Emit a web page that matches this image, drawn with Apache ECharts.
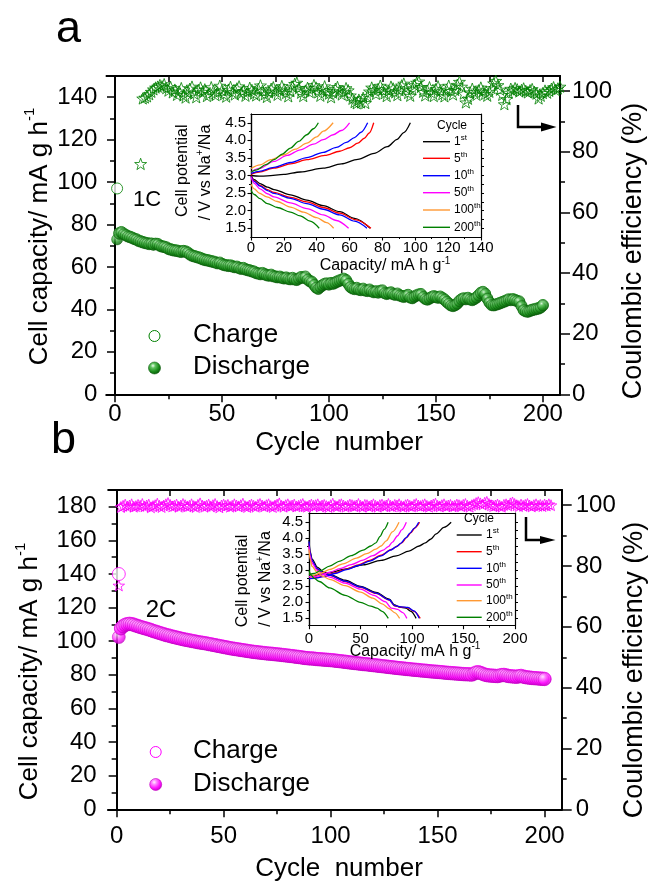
<!DOCTYPE html>
<html><head><meta charset="utf-8">
<script src="https://cdn.jsdelivr.net/npm/echarts@6/dist/echarts.min.js"></script>
<style>html,body{margin:0;padding:0;background:#fff}#c{width:651px;height:881px}</style>
</head><body><div id="c"></div><script>
// ---------------- DATA ----------------
// Panel a (1C): discharge / charge capacity per cycle (cycles 1..200)
const disA = [
73.0,75.6,76.2,75.4,74.9,74.3,74.0,73.6,73.1,72.8,
72.2,71.9,71.5,71.2,71.0,70.7,70.9,70.4,70.8,70.6,
69.9,69.5,69.4,69.0,68.4,68.1,67.8,67.6,67.5,67.2,
67.0,67.4,67.1,66.6,65.8,65.2,64.9,64.6,64.3,64.0,
63.5,63.2,63.0,62.8,62.5,62.3,62.0,61.6,61.8,61.2,
60.8,60.6,60.4,60.5,60.1,59.8,59.9,59.4,59.0,59.3,
58.7,58.4,58.2,57.8,57.6,57.0,56.8,56.5,56.9,56.4,
56.0,55.8,56.1,55.5,55.3,55.0,55.2,54.8,54.5,54.8,
54.3,54.1,54.6,54.0,53.8,54.4,55.0,54.8,55.2,54.0,
53.2,52.8,51.5,50.2,49.6,50.5,51.2,51.8,52.0,51.6,
52.2,52.0,52.5,53.0,53.4,53.8,54.2,53.6,52.0,50.5,
49.8,49.5,49.9,49.2,49.0,49.5,48.8,48.6,49.1,48.4,
48.0,48.3,47.8,48.5,48.7,47.6,47.2,47.5,47.8,47.1,
46.8,47.2,46.5,46.1,45.8,46.2,46.6,45.5,45.2,45.9,
46.4,46.8,47.0,45.8,44.9,44.5,45.0,45.6,46.0,45.7,
45.4,45.8,45.2,44.5,43.5,42.6,41.8,41.5,41.9,42.6,
43.8,44.6,45.0,44.7,45.2,44.6,44.3,44.8,45.5,46.5,
47.6,48.0,47.2,45.0,43.2,42.0,41.8,42.1,42.4,42.8,
43.2,43.6,44.0,44.5,44.3,44.6,44.2,43.8,43.5,41.5,
39.6,39.0,38.8,39.2,39.6,39.8,40.1,40.3,40.8,41.8];
const chgA = [
97.0,76.0,76.5,75.8,75.2,74.6,74.3,73.9,73.4,73.1,
72.5,72.2,71.8,71.5,71.3,71.0,71.1,70.7,71.0,70.9,
70.2,69.8,69.6,69.3,68.7,68.4,68.1,67.9,67.8,67.5,
67.3,67.6,67.4,66.9,66.1,65.5,65.2,64.9,64.6,64.3,
63.8,63.5,63.3,63.1,62.8,62.6,62.3,61.9,62.1,61.5,
61.1,60.9,60.7,60.8,60.4,60.1,60.2,59.7,59.3,59.6,
59.0,58.7,58.5,58.1,57.9,57.3,57.1,56.8,57.2,56.7,
56.3,56.1,56.4,55.8,55.6,55.3,55.5,55.1,54.8,55.1,
54.6,54.4,54.9,54.3,54.1,54.7,55.3,55.1,55.5,54.3,
53.5,53.1,51.8,50.5,49.9,50.8,51.5,52.1,52.3,51.9,
52.5,52.3,52.8,53.3,53.7,54.1,54.5,53.9,52.3,50.8,
50.1,49.8,50.2,49.5,49.3,49.8,49.1,48.9,49.4,48.7,
48.3,48.6,48.1,48.8,49.0,47.9,47.5,47.8,48.1,47.4,
47.1,47.5,46.8,46.4,46.1,46.5,46.9,45.8,45.5,46.2,
46.7,47.1,47.3,46.1,45.2,44.8,45.3,45.9,46.3,46.0,
45.7,46.1,45.5,44.8,43.8,42.9,42.1,41.8,42.2,42.9,
44.1,44.9,45.3,45.0,45.5,44.9,44.6,45.1,45.8,46.8,
47.9,48.3,47.5,45.3,43.5,42.3,42.1,42.4,42.7,43.1,
43.5,43.9,44.3,44.8,44.6,44.9,44.5,44.1,43.8,41.8,
39.9,39.3,39.1,39.5,39.9,40.1,40.4,40.6,41.1,42.1];
// Panel a coulombic efficiency (%), plotted from cycle 12 to 209
const ceAStartCycle = 12;
const ceA = [
76.0,
97.6,97.9,98.3,99.0,99.8,100.6,101.2,101.5,
102.0,101.6,102.3,101.0,100.2,101.4,99.6,100.5,98.8,99.9,
101.0,98.6,97.9,99.5,100.8,101.5,99.2,98.0,100.4,101.2,
99.8,100.6,98.4,99.1,101.3,100.0,98.7,99.6,101.8,100.3,
99.0,98.2,100.5,101.4,99.7,98.9,100.9,101.6,99.3,100.1,
98.5,99.8,101.1,100.4,99.2,98.6,100.7,101.9,100.2,99.0,
98.1,99.6,100.8,101.3,99.9,98.8,100.3,101.7,100.6,99.4,
98.3,100.0,101.5,102.4,102.8,101.0,99.5,98.4,100.2,101.1,
99.7,100.9,102.0,101.2,99.6,98.5,100.4,101.6,100.1,99.2,
98.0,99.5,100.8,101.4,100.0,98.9,99.8,101.0,100.3,98.6,
97.5,96.4,96.0,97.2,96.3,97.8,96.1,98.4,99.9,101.2,
100.4,99.1,100.7,101.8,100.5,99.3,98.4,100.1,101.5,100.9,
99.6,98.7,100.3,101.9,102.5,101.0,99.4,98.5,100.6,102.0,
102.8,103.2,101.4,99.8,98.6,100.2,101.3,99.5,98.4,100.7,
101.6,100.2,99.0,98.3,100.5,101.8,100.1,98.9,100.4,102.1,
103.1,101.5,99.2,96.3,97.5,99.6,100.8,99.7,98.8,100.3,
101.2,100.0,99.1,98.5,99.8,101.0,102.6,103.4,102.0,100.5,
98.8,95.7,97.4,99.5,100.8,100.2,101.0,100.6,99.9,100.4,
100.9,100.1,99.6,100.3,100.7,99.8,99.2,97.6,98.5,99.4,
100.2,99.5,100.1,100.8,101.3,100.4,100.9,101.5,101.0];

// Panel b (2C)
const disB = [
102.5,107.5,108.8,109.6,110.0,110.2,110.0,109.7,109.2,108.8,
108.4,108.0,107.6,107.3,106.9,106.5,106.0,105.6,105.2,104.8,
104.4,104.0,103.6,103.3,103.0,102.6,102.3,102.0,101.7,101.4,
101.1,100.8,100.6,100.3,100.1,99.8,99.6,99.3,99.1,98.9,
98.7,98.5,98.2,98.0,97.7,97.5,97.2,97.0,96.7,96.5,
96.2,96.0,95.7,95.5,95.3,95.1,94.9,94.7,94.5,94.3,
94.1,93.9,93.7,93.5,93.4,93.2,93.1,92.9,92.8,92.6,
92.5,92.4,92.3,92.1,92.0,91.9,91.7,91.6,91.4,91.3,
91.1,91.0,90.8,90.6,90.5,90.3,90.1,89.9,89.8,89.6,
89.6,89.5,89.3,89.2,89.1,89.0,88.9,88.8,88.7,88.6,
88.5,88.3,88.2,88.0,87.9,87.7,87.6,87.4,87.2,87.1,
86.9,86.8,86.6,86.5,86.3,86.2,86.1,85.9,85.8,85.6,
85.5,85.3,85.2,85.0,84.9,84.7,84.6,84.4,84.3,84.1,
84.0,83.8,83.7,83.6,83.4,83.3,83.2,83.0,82.9,82.8,
82.7,82.5,82.4,82.3,82.2,82.0,81.9,81.8,81.7,81.6,
81.5,81.4,81.2,81.1,81.0,80.9,80.8,80.7,80.6,80.5,
80.4,80.3,80.2,80.2,80.1,80.0,80.6,81.2,81.4,81.0,
80.5,80.0,79.7,79.5,79.4,79.3,79.2,79.1,79.4,79.7,
79.8,79.5,79.2,79.0,78.9,78.8,78.7,79.0,79.2,78.8,
78.5,78.3,78.2,78.0,77.9,77.8,77.7,77.6,77.5,77.4];
const chgB = [
140.0,107.8,109.1,109.9,110.3,110.5,110.3,110.0,109.5,109.1,
108.7,108.3,107.9,107.6,107.2,106.8,106.3,105.9,105.5,105.1,
104.7,104.3,103.9,103.6,103.3,102.9,102.6,102.3,102.0,101.7,
101.4,101.1,100.9,100.6,100.4,100.1,99.9,99.6,99.4,99.2,
99.0,98.8,98.5,98.3,98.0,97.8,97.5,97.3,97.0,96.8,
96.5,96.3,96.0,95.8,95.6,95.4,95.2,95.0,94.8,94.6,
94.4,94.2,94.0,93.8,93.7,93.5,93.4,93.2,93.1,92.9,
92.8,92.7,92.6,92.4,92.3,92.2,92.0,91.9,91.7,91.6,
91.4,91.3,91.1,90.9,90.8,90.6,90.4,90.2,90.1,89.9,
89.9,89.8,89.6,89.5,89.4,89.3,89.2,89.1,89.0,88.9,
88.8,88.6,88.5,88.3,88.2,88.0,87.9,87.7,87.5,87.4,
87.2,87.1,86.9,86.8,86.6,86.5,86.4,86.2,86.1,85.9,
85.8,85.6,85.5,85.3,85.2,85.0,84.9,84.7,84.6,84.4,
84.3,84.1,84.0,83.9,83.7,83.6,83.5,83.3,83.2,83.1,
83.0,82.8,82.7,82.6,82.5,82.3,82.2,82.1,82.0,81.9,
81.8,81.7,81.5,81.4,81.3,81.2,81.1,81.0,80.9,80.8,
80.7,80.6,80.5,80.5,80.4,80.3,80.9,81.5,81.7,81.3,
80.8,80.3,80.0,79.8,79.7,79.6,79.5,79.4,79.7,80.0,
80.1,79.8,79.5,79.3,79.2,79.1,79.0,79.3,79.5,79.1,
78.8,78.6,78.5,78.3,78.2,78.1,78.0,77.9,77.8,77.7];
const ceBStartCycle = 1;
const ceB = [
73.6,
99.4,99.8,100.2,99.6,99.9,100.3,99.5,99.7,100.1,99.8,
100.4,99.6,99.9,100.2,99.3,99.7,100.0,100.5,99.8,99.4,
99.9,100.3,100.7,100.1,99.6,99.8,100.2,99.5,99.9,100.4,
100.0,99.6,99.8,100.3,99.7,99.4,100.1,100.6,99.9,99.5,
99.8,100.2,99.6,100.0,100.4,99.7,99.3,99.9,100.2,99.8,
100.1,99.5,99.8,100.3,99.9,99.6,100.0,100.5,99.7,99.4,
99.9,100.2,99.8,99.5,100.1,100.4,99.9,99.6,100.0,100.3,
99.7,99.4,99.9,100.2,100.6,99.8,99.5,100.0,100.3,99.7,
99.9,100.2,99.6,99.8,100.1,100.4,99.7,99.5,99.9,100.2,
99.8,100.0,100.3,99.6,99.9,100.1,99.7,99.4,100.0,100.5,
99.8,99.6,100.1,100.3,99.9,99.5,99.8,100.2,100.0,99.7,
99.9,100.4,99.8,99.5,100.1,100.0,99.6,99.9,100.3,99.8,
99.5,100.0,100.2,99.7,99.9,100.4,99.8,99.6,100.1,99.9,
100.3,99.7,99.5,100.0,100.2,99.8,99.6,100.1,100.4,99.9,
99.7,100.0,100.3,99.8,99.5,99.9,100.2,100.5,99.8,99.6,
100.0,100.3,99.7,99.9,100.1,99.6,99.8,100.2,100.0,99.7,
100.1,100.4,99.8,99.5,100.0,100.3,100.7,101.0,100.6,100.2,
100.8,101.1,100.4,100.0,99.7,99.9,100.2,99.8,99.5,100.1,
100.3,99.9,100.6,100.9,100.4,100.0,99.7,100.2,99.8,100.1,
100.4,99.9,99.6,100.0,100.3,99.8,100.1,99.7,100.2,99.9,
100.3,100.0];

// Insets: [capacity (mA h/g), potential (V)]
const aCh1   = [[0,3.00],[5,2.98],[10,2.99],[20,3.03],[30,3.10],[44,3.21],[55,3.33],[65,3.46],[75,3.63],[83,3.82],[89,4.03],[93,4.22],[97,4.50]];
const aCh5   = [[0,3.04],[5,3.10],[14,3.21],[25,3.34],[34,3.45],[45,3.57],[54,3.69],[60,3.79],[65,3.92],[69,4.06],[72,4.21],[74.7,4.50]];
const aCh10  = [[0,3.06],[5,3.12],[14,3.23],[24,3.37],[34,3.51],[44,3.66],[52,3.80],[58,3.94],[63,4.08],[67,4.23],[71,4.50]];
const aCh50  = [[0,3.10],[5,3.20],[14,3.40],[22,3.57],[30,3.73],[38,3.89],[44,4.02],[50,4.16],[55,4.28],[60,4.50]];
const aCh100 = [[0,3.20],[5.5,3.30],[12,3.45],[20,3.59],[27,3.75],[34,3.92],[40,4.10],[44,4.26],[50,4.50]];
const aCh200 = [[0,3.10],[3.5,3.16],[9,3.31],[14,3.45],[19,3.61],[24,3.78],[29,3.97],[34,4.16],[38,4.33],[41,4.50]];
const aDis1   = [[0,3.00],[2,2.88],[5.5,2.77],[10,2.67],[14,2.60],[24,2.45],[34,2.30],[44,2.14],[54,1.97],[63,1.78],[72.6,1.50]];
const aDis5   = [[0,3.00],[2,2.85],[5.5,2.72],[10,2.60],[14,2.52],[24,2.38],[34,2.25],[44,2.09],[54,1.93],[64,1.74],[73,1.50]];
const aDis10  = [[0,2.98],[2,2.83],[5.5,2.70],[10,2.57],[14,2.49],[24,2.35],[34,2.20],[44,2.04],[54,1.88],[63,1.70],[70.6,1.50]];
const aDis50  = [[0,2.95],[2,2.78],[5.5,2.62],[10,2.48],[14,2.39],[24,2.22],[34,2.06],[44,1.88],[52,1.72],[59.4,1.50]];
const aDis100 = [[0,2.75],[2,2.62],[5,2.50],[9.6,2.39],[16,2.26],[24,2.10],[32,1.96],[40,1.80],[46,1.66],[50.3,1.50]];
const aDis200 = [[0,2.58],[2,2.46],[5.5,2.34],[10,2.20],[16,2.09],[24,1.96],[30,1.85],[36,1.70],[41.5,1.50]];

const bCh1   = [[0,2.80],[5,2.83],[12,2.88],[20,2.93],[35,3.04],[52.6,3.17],[70,3.31],[84.8,3.45],[97,3.60],[107,3.76],[113,3.86],[118,3.97],[123.5,4.14],[131,4.34],[138,4.50]];
const bCh5   = [[0,2.75],[5,2.76],[13.9,2.81],[25,2.92],[36.5,3.04],[48,3.17],[59,3.31],[70,3.47],[80,3.65],[86,3.76],[90,3.86],[95,4.03],[99,4.18],[103,4.33],[107.4,4.50]];
const bCh10  = [[0,2.74],[5,2.75],[13.9,2.80],[25,2.90],[36.5,3.02],[48,3.15],[59,3.29],[70,3.45],[79,3.63],[85,3.74],[89,3.84],[94,4.01],[98,4.16],[102,4.31],[106.5,4.50]];
const bCh50  = [[0,2.80],[5,2.80],[10.6,2.84],[20,2.94],[30,3.05],[41,3.18],[52.6,3.32],[62,3.46],[72,3.63],[77,3.74],[81,3.88],[86,4.08],[90,4.26],[94.5,4.50]];
const bCh100 = [[0,2.88],[4,2.84],[12,2.92],[20.3,3.03],[33,3.20],[46.1,3.38],[56,3.52],[65,3.66],[70,3.76],[75,3.92],[81,4.20],[87.4,4.50]];
const bCh200 = [[0,2.86],[5,2.90],[10.6,2.98],[20,3.13],[30,3.29],[41,3.46],[52.6,3.63],[60,3.76],[65,3.86],[69,4.06],[73,4.28],[76.8,4.50]];
const bDis1   = [[0,3.95],[1,3.60],[3,3.35],[8,3.10],[14,2.95],[20,2.87],[35,2.69],[50,2.50],[65,2.31],[78,2.10],[83,1.92],[88,1.85],[94,1.82],[99,1.72],[104,1.50]];
const bDis5   = [[0,3.85],[1,3.52],[3,3.28],[8,3.04],[14,2.91],[20,2.84],[35,2.65],[50,2.47],[65,2.28],[78,2.07],[83,1.89],[89,1.85],[96,1.83],[102,1.72],[108,1.50]];
const bDis10  = [[0,3.90],[1,3.55],[3,3.30],[8,3.05],[14,2.92],[20,2.85],[35,2.66],[50,2.48],[65,2.29],[78,2.08],[83,1.90],[89,1.86],[96,1.84],[102,1.73],[107,1.50]];
const bDis50  = [[0,3.75],[1,3.45],[3,3.22],[8,3.00],[14,2.87],[20,2.79],[35,2.60],[50,2.41],[63,2.22],[74,2.02],[80,1.82],[86,1.78],[91,1.68],[95,1.50]];
const bDis100 = [[0,3.65],[1,3.35],[3,3.12],[8,2.93],[14,2.80],[20,2.72],[35,2.52],[50,2.32],[62,2.13],[71,1.95],[78,1.80],[83,1.68],[88,1.50]];
const bDis200 = [[0,3.00],[2,2.85],[5,2.75],[10,2.65],[20,2.45],[35,2.22],[50,2.00],[60,1.88],[66,1.82],[71,1.72],[77,1.50]];

const insetCycleNums = ['1','5','10','50','100','200'];
const insetCycleSup  = ['st','th','th','th','th','th'];

// tick values
const cycleTicks = [0,50,100,150,200];
const cycleMinor = [25,75,125,175];
const topTicks = [25,50,75,100,125,150,175,200];
const capTicksA = [0,20,40,60,80,100,120,140];
const capMinorA = [10,30,50,70,90,110,130];
const capTicksB = [0,20,40,60,80,100,120,140,160,180];
const capMinorB = [10,30,50,70,90,110,130,150,170];
const ceTicks = [0,20,40,60,80,100];
const ceMinor = [10,30,50,70,90];
const vTicks = [1.5,2.0,2.5,3.0,3.5,4.0,4.5];
const vMinor = [1.75,2.25,2.75,3.25,3.75,4.25];
const vRight = [1.5,1.75,2.0,2.25,2.5,2.75,3.0,3.25,3.5,3.75,4.0,4.25,4.5];
const capInsetTicksA = [0,20,40,60,80,100,120,140];
const capInsetMinorA = [10,30,50,70,90,110,130];
const capInsetTicksB = [0,50,100,150,200];
const capInsetMinorB = [25,75,125,175];

// ---------------- STYLE / BUILD ----------------
const FONT = "'Liberation Sans', Arial, Helvetica, sans-serif";
const BLACK = '#000';
const GREEN = '#008000';
const MAG = '#ff00ff';
const insetColors = ['#000000','#ff0000','#0000ff','#ff00ff','#ff9933','#008000'];
const STAR = 'path://M50,0 L61.76,33.82 L97.55,34.55 L69.02,56.18 L79.39,90.45 L50,70 L20.61,90.45 L30.98,56.18 L2.45,34.55 L38.24,33.82 Z';

function greenBall(){ return {type:'radial', x:0.38, y:0.32, r:0.72, colorStops:[{offset:0,color:'#f2fff2'},{offset:0.25,color:'#63c463'},{offset:0.65,color:'#1b8c1b'},{offset:1,color:'#075707'}]}; }
function magBall(){ return {type:'radial', x:0.38, y:0.32, r:0.72, colorStops:[{offset:0,color:'#fff2ff'},{offset:0.25,color:'#ff8cff'},{offset:0.65,color:'#ff14ff'},{offset:1,color:'#c200c2'}]}; }

function lineCfg(show, w){ return {show:show, onZero:false, lineStyle:{color:BLACK, width:w||1.8}}; }
function tickCfg(vals, len, inside, w){
  if(!vals) return {show:false};
  return {show:true, customValues:vals, length:len, inside:!!inside, lineStyle:{color:BLACK, width:w||1.5}};
}
function labelCfg(vals, size, margin, fmt){
  if(!vals) return {show:false};
  const o = {show:true, customValues:vals, fontSize:size, fontFamily:FONT, color:BLACK, margin:margin};
  if(fmt) o.formatter = fmt;
  return o;
}
const xAxes = [], yAxes = [];
function axis(list, o){ list.push(Object.assign({type:'value', splitLine:{show:false}, silent:true}, o)); return list.length-1; }

function buildMain(g, p){
  const xr = () => ({gridIndex:g, min:-4, max:208});
  const xb = axis(xAxes, Object.assign({position:'bottom', axisLine:lineCfg(true), axisTick:tickCfg(cycleTicks,8), axisLabel:labelCfg(cycleTicks,24,p.xMargin)}, xr()));
  axis(xAxes, Object.assign({position:'bottom', axisLine:lineCfg(true), axisTick:tickCfg(cycleMinor,5), axisLabel:{show:false}}, xr()));
  axis(xAxes, Object.assign({position:'top', axisLine:lineCfg(true), axisTick:tickCfg(topTicks,6,true), axisLabel:{show:false}}, xr()));
  const zl = () => ({show:true, onZero:true, onZeroAxisIndex:xb, lineStyle:{color:BLACK, width:1.8}});
  const yr0 = () => ({gridIndex:g, min:0, max:p.capMax});
  const yl = axis(yAxes, Object.assign({position:'left', axisLine:zl(), axisTick:tickCfg(p.capTicks,8), axisLabel:labelCfg(p.capTicks,24,p.yMargin)}, yr0()));
  axis(yAxes, Object.assign({position:'left', axisLine:zl(), axisTick:tickCfg(p.capMinor,5), axisLabel:{show:false}}, yr0()));
  const yrr = () => ({gridIndex:g, min:0, max:105});
  const yr = axis(yAxes, Object.assign({position:'right', axisLine:lineCfg(true), axisTick:tickCfg(ceTicks,10), axisLabel:labelCfg(ceTicks,24,p.rMargin)}, yrr()));
  axis(yAxes, Object.assign({position:'right', axisLine:lineCfg(true), axisTick:tickCfg(ceMinor,5), axisLabel:{show:false}}, yrr()));
  return {xb, yl, yr};
}
function buildInset(g, p){
  const xr = () => ({gridIndex:g, min:p.xMin, max:p.xMax});
  const xb = axis(xAxes, Object.assign({position:'bottom', axisLine:lineCfg(true,1.2), axisTick:tickCfg(p.xTicks,3.5,false,1.1), axisLabel:labelCfg(p.xTicks,p.fs,p.xMargin)}, xr()));
  axis(xAxes, Object.assign({position:'bottom', axisLine:lineCfg(true,1.2), axisTick:tickCfg(p.xMinor,2,false,1), axisLabel:{show:false}}, xr()));
  axis(xAxes, Object.assign({position:'top', axisLine:lineCfg(true,1.2), axisTick:{show:false}, axisLabel:{show:false}}, xr()));
  const yr0 = () => ({gridIndex:g, min:p.yMin, max:p.yMax});
  const yl = axis(yAxes, Object.assign({position:'left', axisLine:lineCfg(true,1.2), axisTick:tickCfg(vTicks,3.5,false,1.1), axisLabel:labelCfg(vTicks,p.fs,p.yMargin,v=>v.toFixed(1))}, yr0()));
  axis(yAxes, Object.assign({position:'left', axisLine:lineCfg(true,1.2), axisTick:tickCfg(vMinor,2,false,1), axisLabel:{show:false}}, yr0()));
  axis(yAxes, Object.assign({position:'right', axisLine:lineCfg(true,1.2), axisTick:tickCfg(vRight,3,false,1), axisLabel:{show:false}}, yr0()));
  return {xb, yl};
}

const grids = [
  {left:106.4, top:76, width:453.6, height:318.3},
  {left:251, top:114, width:230, height:123, show:true, backgroundColor:'#fff', borderWidth:0},
  {left:108.1, top:490, width:453.6, height:319.3},
  {left:309, top:513, width:206, height:112.7, show:true, backgroundColor:'#fff', borderWidth:0}
];
const MA = buildMain(0, {capMax:150, capTicks:capTicksA, capMinor:capMinorA, xMargin:8.5, yMargin:9, rMargin:12});
const IA = buildInset(1, {xMin:0, xMax:140, yMin:1.25, yMax:4.75, xTicks:capInsetTicksA, xMinor:capInsetMinorA, fs:15, xMargin:3, yMargin:5});
const MB = buildMain(2, {capMax:190, capTicks:capTicksB, capMinor:capMinorB, xMargin:15, yMargin:11.5, rMargin:14});
const IB = buildInset(3, {xMin:0, xMax:200, yMin:1.27, yMax:4.79, xTicks:capInsetTicksB, xMinor:capInsetMinorB, fs:15, xMargin:6, yMargin:6});

const series = [];
function mainSeries(ax, ce, ceStart, chg, dis, color, ball, size, starSize){
  series.push({type:'scatter', xAxisIndex:ax.xb, yAxisIndex:ax.yr, symbol:STAR, symbolKeepAspect:true, symbolSize:starSize,
    itemStyle:{color:'rgba(0,0,0,0)', borderColor:color, borderWidth:1}, data:ce.map((v,i)=>[ceStart+i, v]), silent:true, z:2});
  series.push({type:'scatter', xAxisIndex:ax.xb, yAxisIndex:ax.yl, symbol:'circle', symbolSize:size,
    itemStyle:{color:'#fff', borderColor:color, borderWidth:1}, data:chg.map((v,i)=>[i+1, v]), silent:true, z:3});
  series.push({type:'scatter', xAxisIndex:ax.xb, yAxisIndex:ax.yl, symbol:'circle', symbolSize:size,
    itemStyle:{color:ball(), borderColor:color==GREEN?'#0a5a0a':'#c000c0', borderWidth:0.6}, data:dis.map((v,i)=>[i+1, v]), silent:true, z:4});
}
mainSeries(MA, ceA, ceAStartCycle, chgA, disA, GREEN, greenBall, 11, 12);
mainSeries(MB, ceB, ceBStartCycle, chgB, disB, MAG, magBall, 13, 11.5);

function insetSeries(ax, curves){
  curves.forEach((c, k) => {
    c.forEach(d => series.push({type:'line', xAxisIndex:ax.xb, yAxisIndex:ax.yl, data:d, showSymbol:false, symbol:'none',
      smooth:0.3, smoothMonotone:'x', lineStyle:{color:insetColors[k], width:1.3}, itemStyle:{color:insetColors[k]}, silent:true, z:5}));
  });
}
insetSeries(IA, [[aCh1,aDis1],[aCh5,aDis5],[aCh10,aDis10],[aCh50,aDis50],[aCh100,aDis100],[aCh200,aDis200]]);
insetSeries(IB, [[bCh1,bDis1],[bCh5,bDis5],[bCh10,bDis10],[bCh50,bDis50],[bCh100,bDis100],[bCh200,bDis200]]);

// ---------------- GRAPHIC (texts, legends, arrows) ----------------
const G = [];
function txt(x, y, text, fs, opt){
  opt = opt || {};
  const style = {text:text, fontSize:fs, fontFamily:FONT, fill:BLACK, align:opt.align||'center', verticalAlign:'middle',
    textAlign:opt.align||'center', textVerticalAlign:'middle'};
  if(opt.rich) style.rich = opt.rich;
  G.push({type:'text', x:x, y:y, rotation:opt.rot||0, style:style, silent:true, z:20});
}
function supRich(fs, lh, sfs){ return {m:{fontSize:fs, lineHeight:lh, fontFamily:FONT, verticalAlign:'middle'}, s:{fontSize:sfs, lineHeight:sfs, fontFamily:FONT, verticalAlign:'top'}}; }
const R90 = Math.PI/2;
// panel letters
txt(56, 29.5, 'a', 45, {align:'left'});
txt(51, 440.5, 'b', 45, {align:'left'});
// main axis titles
txt(39.5, 236.5, '{m|Cell capacity/ mA g h}{s|-1}', 26, {rot:R90, rich:supRich(26,34,15)});
txt(30, 671.5, '{m|Cell capacity/ mA g h}{s|-1}', 26, {rot:R90, rich:supRich(26,34,15)});
txt(634, 251, 'Coulombic efficiency (%)', 27, {rot:R90});
txt(635, 670, 'Coulombic efficiency (%)', 27, {rot:R90});
txt(339, 443, 'Cycle  number', 26);
txt(339, 869, 'Cycle  number', 26);
// rate labels
txt(147, 200, '1C', 22);
txt(161, 610, '2C', 24);
// main legends
function mainLegend(x, y1, y2, color, ball){
  G.push({type:'circle', shape:{cx:x, cy:y1, r:5.5}, style:{fill:'#fff', stroke:color, lineWidth:1}, silent:true, z:20});
  G.push({type:'circle', shape:{cx:x, cy:y2, r:6}, style:{fill:ball(), stroke:color==GREEN?'#0a5a0a':'#c000c0', lineWidth:0.6}, silent:true, z:20});
  txt(193, y1-1, 'Charge', 26, {align:'left'});
  txt(193, y2-1, 'Discharge', 26, {align:'left'});
}
mainLegend(154.5, 336, 368, GREEN, greenBall);
mainLegend(155.7, 752, 784.5, MAG, magBall);
// arrows
function arrow(pts, head){
  G.push({type:'polyline', shape:{points:pts}, style:{stroke:BLACK, lineWidth:2.5, fill:null}, silent:true, z:20});
  G.push({type:'polygon', shape:{points:head}, style:{fill:BLACK}, silent:true, z:20});
}
arrow([[518,105],[518,127],[545,127]], [[541,122.5],[556.5,127],[541,131.5]]);
arrow([[526,517],[526,540],[545,540]], [[540,536],[555.5,540],[540,544]]);
// inset titles
txt(183, 170.7, 'Cell potential', 16, {rot:R90});
txt(205.5, 172.5, '{m|/ V vs Na}{s|+}{m|/Na}', 16, {rot:R90, rich:supRich(16,20,10)});
txt(385, 266, '{m|Capacity/ mA h g}{s|-1}', 16, {rich:supRich(16,20,10)});
txt(243, 581, 'Cell potential', 16, {rot:R90});
txt(265.7, 579, '{m|/ V vs Na}{s|+}{m|/Na}', 16, {rot:R90, rich:supRich(16,20,10)});
txt(415, 651.7, '{m|Capacity/ mA h g}{s|-1}', 16, {rich:supRich(16,20,10)});
// inset legends
function insetLegend(cx, cy, x1, x2, lx, rows){
  txt(cx, cy, 'Cycle', 12);
  rows.forEach((y, k) => {
    G.push({type:'line', shape:{x1:x1, y1:y, x2:x2, y2:y}, style:{stroke:insetColors[k], lineWidth:1.4}, silent:true, z:20});
    txt(lx, y, '{m|' + insetCycleNums[k] + '}{s|' + insetCycleSup[k] + '}', 12, {align:'left', rich:supRich(12,16,8)});
  });
}
insetLegend(452, 125.7, 423, 450, 454, [141.7,158.3,175.7,192.7,210,227.3]);
insetLegend(479, 519, 456.7, 481.7, 486, [535,551.7,568.3,585,600.7,617.3]);

const chart = echarts.init(document.getElementById('c'), null, {renderer:'canvas'});
chart.setOption({
  animation:false,
  backgroundColor:'#fff',
  grid:grids,
  xAxis:xAxes,
  yAxis:yAxes,
  series:series,
  graphic:{elements:G}
});
</script></body></html>
